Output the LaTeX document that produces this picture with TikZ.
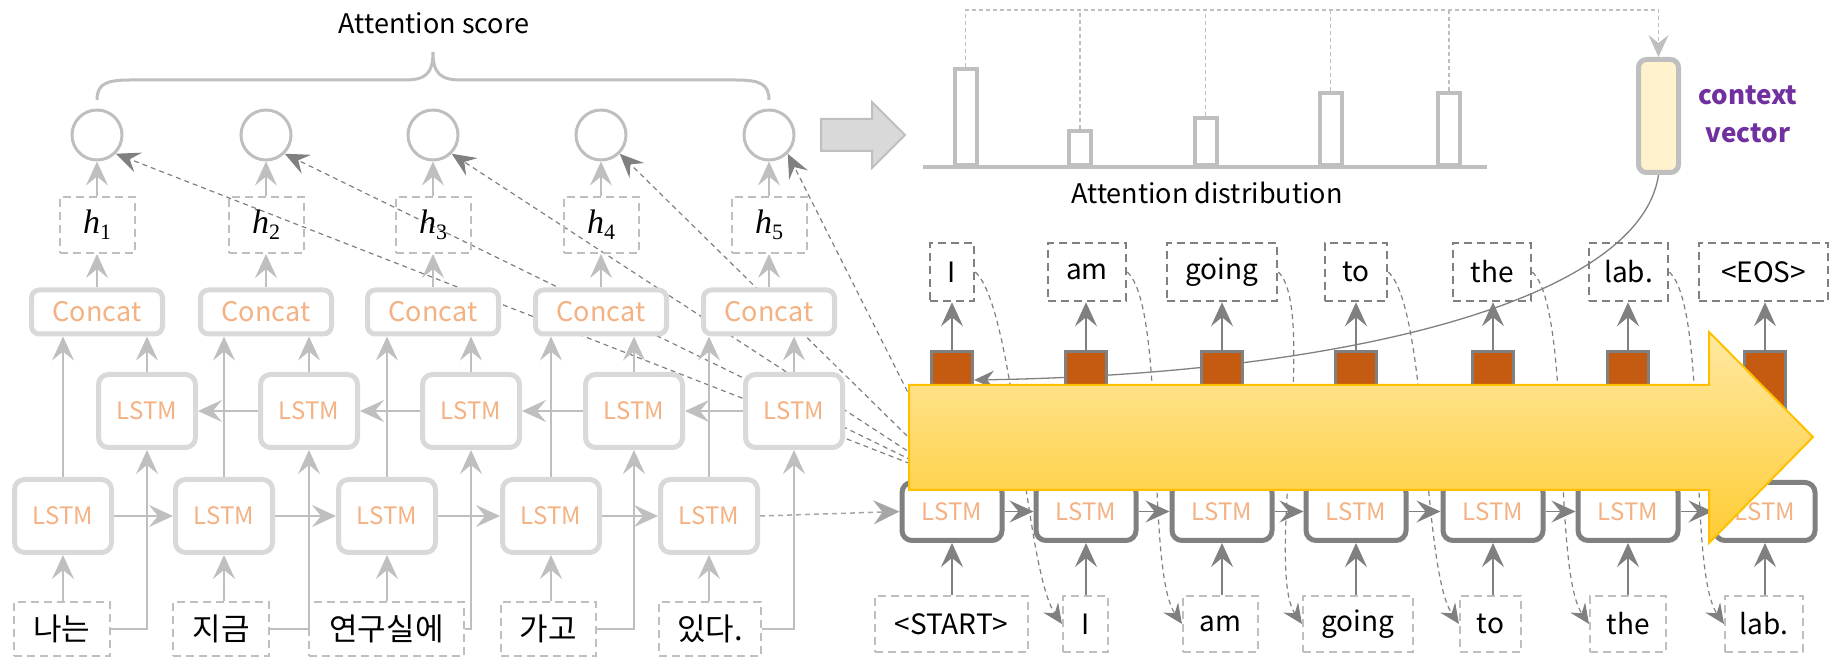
\documentclass[tikz,border=0pt]{standalone}
\usepackage[no-math]{fontspec}
\setmainfont{Noto Sans CJK KR}
\newfontfamily\hfont{Liberation Serif}
\newcommand{\hsub}[1]{{\hfont\itshape h}\raisebox{-6pt}{\fontsize{22}{22}\selectfont\hfont #1}}
\usetikzlibrary{arrows.meta,calc}
\pgfdeclarelayer{bg}
\pgfdeclarelayer{fg}
\pgfsetlayers{bg,main,fg}
\definecolor{lg}{HTML}{D9D9D9}
\definecolor{mg}{HTML}{BFBFBF}
\definecolor{ag}{HTML}{A6A6A6}
\definecolor{dg}{HTML}{808080}
\definecolor{orng}{HTML}{F4B183}
\definecolor{rust}{HTML}{C55A11}
\definecolor{cvfill}{HTML}{FFF2CC}
\definecolor{purp}{HTML}{7030A0}
\definecolor{ylA}{HTML}{FFE9A3}
\definecolor{ylB}{HTML}{FFCC33}
\definecolor{ylE}{HTML}{FFC000}
\tikzset{
  fs/.style={font=\fontsize{#1}{#1}\selectfont},
  encbox/.style={draw=lg, line width=5pt, rounded corners=10pt, fill=white, minimum width=97pt, minimum height=73pt, inner sep=0pt, text=orng, fs=24},
  concatbox/.style={draw=lg, line width=5pt, rounded corners=8pt, fill=white, minimum width=131pt, minimum height=44pt, inner sep=0pt, text=orng, fs=27},
  decbox/.style={draw=dg, line width=5pt, rounded corners=10pt, fill=white, minimum width=100pt, minimum height=58pt, inner sep=0pt, text=orng, fs=24},
  obox/.style={draw=dg, line width=3pt, fill=rust, minimum width=41pt, minimum height=57pt, inner sep=0pt},
  hstate/.style={draw=mg, line width=2pt, dash pattern=on 8pt off 5pt, minimum width=75pt, minimum height=56pt, inner sep=0pt, fs=34},
  wbox/.style={draw=mg, line width=2pt, dash pattern=on 8pt off 5pt, minimum height=54pt, inner sep=0pt, fs=31},
  twbox/.style={draw=dg, line width=2.5pt, dash pattern=on 8pt off 5pt, minimum height=58pt, inner sep=0pt, fs=28},
  bwbox/.style={draw=mg, line width=2pt, dash pattern=on 8pt off 5pt, minimum height=56pt, inner sep=0pt, fs=28},
  scorec/.style={circle, draw=mg, line width=3pt, minimum size=50pt, inner sep=0pt},
  barbox/.style={draw=mg, line width=4pt, fill=white, minimum width=22pt, inner sep=0pt, anchor=south},
  earr/.style={draw=mg, line width=1.5pt, -{Stealth[length=24pt,width=22pt,inset=9pt]}},
  darr/.style={draw=dg, line width=1.5pt, -{Stealth[length=24pt,width=22pt,inset=9pt]}},
  attline/.style={draw=dg, line width=1.2pt, dash pattern=on 5pt off 4pt, -{Stealth[length=24pt,width=21pt,inset=9pt]}},
  curvarr/.style={draw=dg, line width=1.2pt, dash pattern=on 5pt off 4pt, -{Stealth[length=20pt,width=18pt,inset=7pt]}},
  linkarr/.style={draw=ag, line width=1.5pt, dash pattern=on 5pt off 4pt, -{Stealth[length=26pt,width=24pt,inset=9pt,fill=ag]}},
  distline/.style={draw=mg, line width=1.2pt, dash pattern=on 4pt off 3pt},
  ctxline/.style={draw=dg, line width=1.3pt, -{Stealth[length=20pt,width=18pt,inset=7pt]}},
}
\begin{document}
\begin{tikzpicture}[x=1pt,y=1pt]
\useasboundingbox (0,0) rectangle (1837,659);

% ---------- encoder ----------
\node[fs=27] (atts) at (434,636) {Attention score};
\draw[mg, line width=3pt] (97,559) .. controls (97,575) and (106,579) .. (130,579) -- (405,579) .. controls (426,579) and (433,586) .. (433,607) .. controls (433,586) and (440,579) .. (461,579) -- (736,579) .. controls (760,579) and (769,575) .. (769,559);

\foreach \i/\x in {1/97,2/266,3/433,4/601,5/769} {
  \node[scorec] (c\i) at (\x,524) {};
  \node[hstate] (h\i) at (\x,434) {\hsub{\i}};
  \node[concatbox] (k\i) at (\x,347) {Concat};
}
\foreach \i/\x in {1/147,2/309,3/471,4/634,5/794}
  \node[encbox] (u\i) at (\x,248) {LSTM};
\foreach \i/\x in {1/63,2/224,3/387,4/551,5/709}
  \node[encbox] (l\i) at (\x,143) {LSTM};

\node[wbox, minimum width=96pt] (w1) at (62,30) {나는};
\node[wbox, minimum width=96pt] (w2) at (221,30) {지금};
\node[wbox, minimum width=155pt] (w3) at (386.5,30) {연구실에};
\node[wbox, minimum width=95pt] (w4) at (548.5,30) {가고};
\node[wbox, minimum width=102pt] (w5) at (710,30) {있다.};

% ---------- gray block arrow ----------
\draw[fill=lg, draw=mg, line width=2pt] (821,508) -- (872,508) -- (872,491) -- (905,524) -- (872,557) -- (872,540) -- (821,540) -- cycle;

% ---------- attention distribution ----------
\draw[mg, line width=4pt] (923,492) -- (1487,492);
\node[barbox, minimum height=96pt] (a1) at (965.5,492) {};
\node[barbox, minimum height=34pt] (a2) at (1080,492) {};
\node[barbox, minimum height=47pt] (a3) at (1205.5,492) {};
\node[barbox, minimum height=72pt] (a4) at (1330.5,492) {};
\node[barbox, minimum height=72pt] (a5) at (1449,492) {};
\node[fs=27] (attd) at (1207,466) {Attention distribution};

\node[draw=mg, line width=5pt, rounded corners=8pt, fill=cvfill, minimum width=40pt, minimum height=113pt, inner sep=0pt] (cv) at (1658.5,543) {};
\node[text=purp, font=\fontsize{26}{38}\selectfont\bfseries, align=center] (cvl) at (1748,545) {context\\vector};
\coordinate (tc) at (1658.5,649);
\draw[distline, -{Stealth[length=22pt,width=20pt,inset=8pt]}] (a1.north) |- (tc) -- (cv.north);
\foreach \i in {2,...,5}
  \draw[distline] (a\i.north) -- (a\i.north |- tc);

% ---------- decoder ----------
\foreach \i/\x in {1/952,2/1086,3/1222,4/1356,5/1493,6/1628,7/1765} {
  \node[decbox] (d\i) at (\x,147.5) {LSTM};
  \node[obox] (o\i) at (\x,279) {};
}
\foreach \i/\x/\w/\t in {1/952/44/I,2/1087/78/am,3/1222/110/going,4/1356/62/to,5/1492/78/the,6/1628.5/79/lab.,7/1763.5/129/{<EOS>}}
  \node[twbox, minimum width=\w pt] (t\i) at (\x,387) {\t};
\foreach \i/\x/\w/\t in {1/951.5/153/{<START>},2/1085.5/45/I,3/1220.5/75/am,4/1358/110/going,5/1490.5/61/to,6/1628/76/the,7/1764/78/lab.}
  \node[bwbox, minimum width=\w pt] (b\i) at (\x,35) {\t};

% ---------- connectors ----------
\begin{pgfonlayer}{bg}
\foreach \i in {1,...,5} {
  \draw[earr] (h\i.north) -- (c\i.south);
  \draw[earr] (k\i.north) -- (h\i.south);
  \draw[earr] (l\i.north) -- (l\i.north |- k\i.south);
  \draw[earr] (u\i.north) -- (u\i.north |- k\i.south);
  \draw[earr] (l\i.south |- w\i.north) -- (l\i.south);
  \draw[earr] (w\i.east) -| (u\i.south);
  \draw[attline] (d1.north) -- (c\i.-45);
}
\foreach \i/\j in {1/2,2/3,3/4,4/5} {
  \draw[earr] (l\i.east) -- (l\j.west);
  \draw[earr] (u\j.west) -- (u\i.east);
}
\draw[linkarr] (l5.east) -- (d1.west);
\foreach \i in {1,...,7} {
  \draw[darr] (d\i.south |- b\i.north) -- (d\i.south);
  \draw[darr] (d\i.north) -- (o\i.south);
  \draw[darr] (o\i.north) -- (o\i.north |- t\i.south);
}
\foreach \i/\j in {1/2,2/3,3/4,4/5,5/6,6/7} {
  \draw[darr] (d\i.east) -- (d\j.west);
  \draw[curvarr] (t\i.east) .. controls +(40,-37) and +(-37,54) .. (b\j.west);
}
\draw[ctxline] (cv.south) .. controls (1640,360) and (1350,285) .. (o1.east);
\end{pgfonlayer}

% ---------- big yellow arrow ----------
\begin{pgfonlayer}{fg}
\shadedraw[top color=ylA, bottom color=ylB, draw=ylE, line width=2pt] (909,169) -- (1709,169) -- (1709,116) -- (1813,222) -- (1709,327) -- (1709,274) -- (909,274) -- cycle;
\end{pgfonlayer}
\end{tikzpicture}
\end{document}
